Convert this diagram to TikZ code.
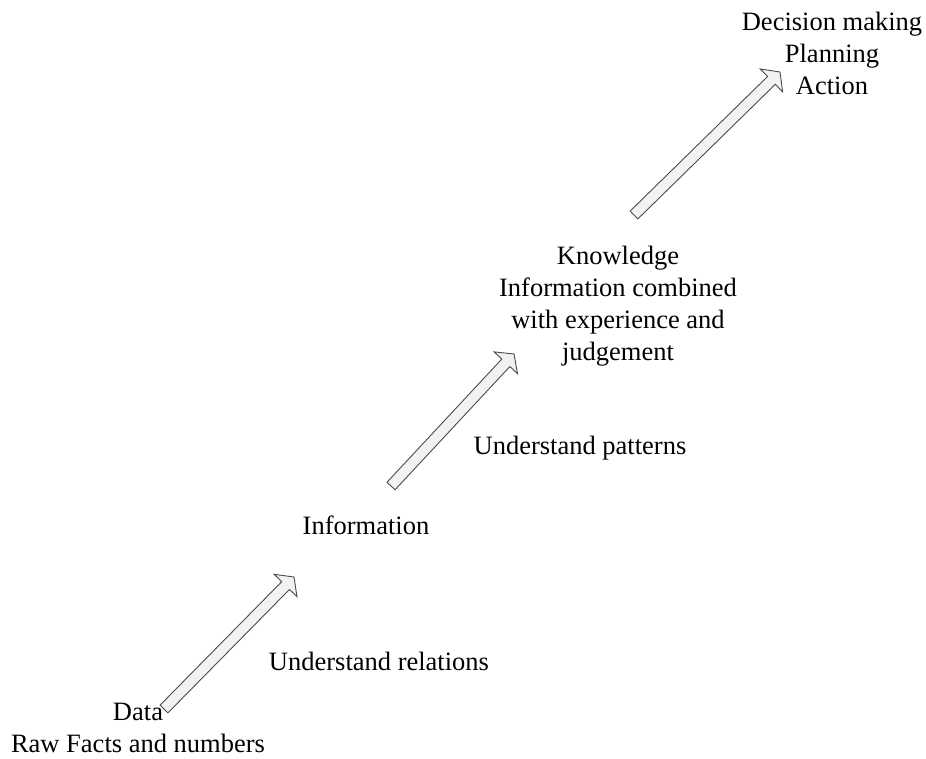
\documentclass[tikz,border=0pt]{standalone}
\usepackage{fontspec}
\setmainfont{Liberation Serif}
\usetikzlibrary{calc}
\tikzset{
  lbl/.style={align=center, inner sep=0pt, font=\fontsize{26.5}{32}\selectfont},
  arrowbody/.style={draw=black!70, line width=0.9pt, fill=black!5, line join=miter},
  arrowshade/.style={fill=black!18, draw=none}
}
% block arrow from tail #1 to tip #2
\newcommand{\blockarrow}[2]{%
  \coordinate (#1-neck) at ($(#2)!12pt!(#1)$);
  \foreach \sx/\sy/\st in {2.5/2.5/arrowshade, 0/0/arrowbody}{
    \path[\st, shift={(\sx pt,-\sy pt)}]
      ($(#1)!5.5pt!90:(#2)$) -- ($(#1-neck)!5.5pt!90:(#2)$) --
      ($(#1-neck)!16pt!90:(#2)$) -- (#2) --
      ($(#1-neck)!16pt!-90:(#2)$) -- ($(#1-neck)!5.5pt!-90:(#2)$) --
      ($(#1)!5.5pt!-90:(#2)$) -- cycle;
  }%
}
\begin{document}
\begin{tikzpicture}[x=1pt,y=-1pt]
\useasboundingbox (0,0) rectangle (926,758);
% stage labels
\node[lbl] (data) at (138,728) {Data\\Raw Facts and numbers};
\node[lbl] (info) at (366,525) {Information};
\node[lbl] (know) at (618,306) {Knowledge\\Information combined\\with experience and\\judgement};
\node[lbl] (act) at (832,53) {Decision making\\Planning\\Action};
% transition labels
\node[lbl] (rel) at (379,661) {Understand relations};
\node[lbl] (pat) at (580,448) {Understand patterns};
% arrows between stages
\coordinate (a1) at (164,709); \coordinate (b1) at (294,577);
\coordinate (a2) at (391,486); \coordinate (b2) at (514,354);
\coordinate (a3) at (634,215); \coordinate (b3) at (780,72);
\blockarrow{a1}{b1}
\blockarrow{a2}{b2}
\blockarrow{a3}{b3}
\end{tikzpicture}
\end{document}
